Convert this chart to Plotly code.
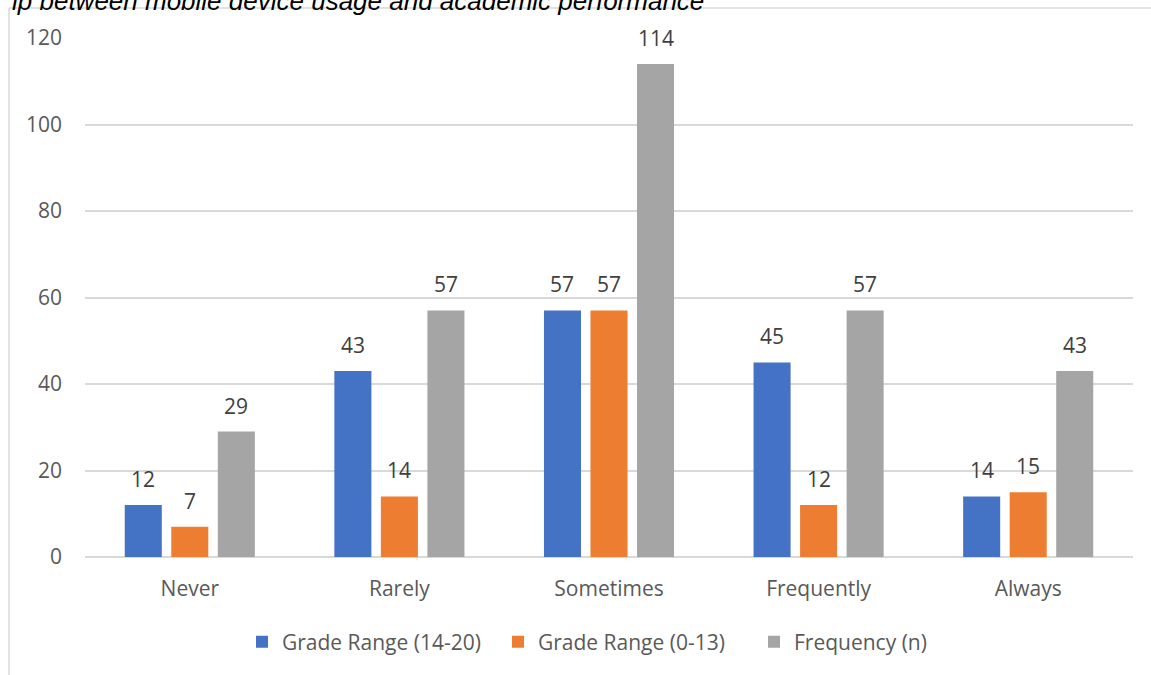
import plotly.graph_objects as go

# Usage frequency categories and counts per group
categories = ["Never", "Rarely", "Sometimes", "Frequently", "Always"]
grade_high = [12, 43, 57, 45, 14]   # Grade Range (14-20)
grade_low = [7, 14, 57, 12, 15]     # Grade Range (0-13)
frequency = [29, 57, 114, 57, 43]   # Frequency (n)

series_names = ["Grade Range (14-20)", "Grade Range (0-13)", "Frequency (n)"]
series_values = [grade_high, grade_low, frequency]
series_colors = ["#4472C4", "#ED7D31", "#A5A5A5"]

y_ticks = [0, 20, 40, 60, 80, 100, 120]

W, H = 1151, 675
M_L, M_R, M_T, M_B = 85, 18, 38, 118
BARGAP = 0.334
BARGROUPGAP = 0.204
FONT = "Open Sans"
FS = 21

fig = go.Figure()
for name, vals, col in zip(series_names, series_values, series_colors):
    fig.add_trace(go.Bar(
        x=categories, y=vals, name=name,
        marker=dict(color=col, line=dict(width=0)),
    ))

# Value labels above each bar, placed at the centre of its slot in the group
n_series = len(series_values)
slot = (1 - BARGAP) / n_series
annotations = []
for k, vals in enumerate(series_values):
    off = (k - (n_series - 1) / 2) * slot
    for i, v in enumerate(vals):
        annotations.append(dict(
            x=i + off, y=v, xref="x", yref="y",
            text=str(v), showarrow=False,
            yanchor="bottom", xanchor="center", yshift=10,
            font=dict(family=FONT, size=FS, color="#404040"),
        ))

plot_w = W - M_L - M_R
plot_h = H - M_T - M_B


def px_x(p):
    return (p - M_L) / plot_w


def px_y(p):
    return 1 - (p - M_T) / plot_h


# Caption running along the top edge of the page
annotations.append(dict(
    text="ip between mobile device usage and academic performance",
    xref="paper", yref="paper",
    x=px_x(706), y=1,
    xanchor="right", yanchor="bottom", yshift=20,
    showarrow=False,
    font=dict(family="Liberation Sans", size=26, color="#000000",
              style="italic"),
))

border = dict(color="#D9D9D9", width=1.5)
shapes = [
    dict(type="line", xref="paper", yref="paper",
         x0=px_x(9), x1=px_x(9), y0=px_y(8), y1=px_y(H + 5), line=border),
    dict(type="line", xref="paper", yref="paper",
         x0=px_x(9), x1=px_x(W + 5), y0=px_y(8), y1=px_y(8), line=border),
]

fig.update_layout(
    width=W, height=H,
    margin=dict(l=M_L, r=M_R, t=M_T, b=M_B, autoexpand=False),
    paper_bgcolor="white", plot_bgcolor="white",
    barmode="group", bargap=BARGAP, bargroupgap=BARGROUPGAP,
    font=dict(family=FONT, size=FS, color="#595959"),
    showlegend=True,
    legend=dict(
        orientation="h", xanchor="left", yanchor="middle",
        x=px_x(242), y=px_y(642),
        entrywidth=211, entrywidthmode="pixels",
        font=dict(family=FONT, size=FS, color="#595959"),
        traceorder="normal",
    ),
    annotations=annotations,
    shapes=shapes,
)
fig.update_xaxes(
    type="category", showgrid=False, showline=False, zeroline=False,
    ticks="", ticklabelstandoff=17,
    tickfont=dict(family=FONT, size=FS, color="#595959"),
)
fig.update_yaxes(
    range=[0, 120], tickvals=y_ticks, showgrid=True,
    gridcolor="#D9D9D9", gridwidth=1.5,
    zeroline=True, zerolinecolor="#D9D9D9", zerolinewidth=1.5,
    showline=False, ticks="", ticklabelstandoff=22,
    tickfont=dict(family=FONT, size=FS, color="#595959"),
)

fig.write_html("out.html")
